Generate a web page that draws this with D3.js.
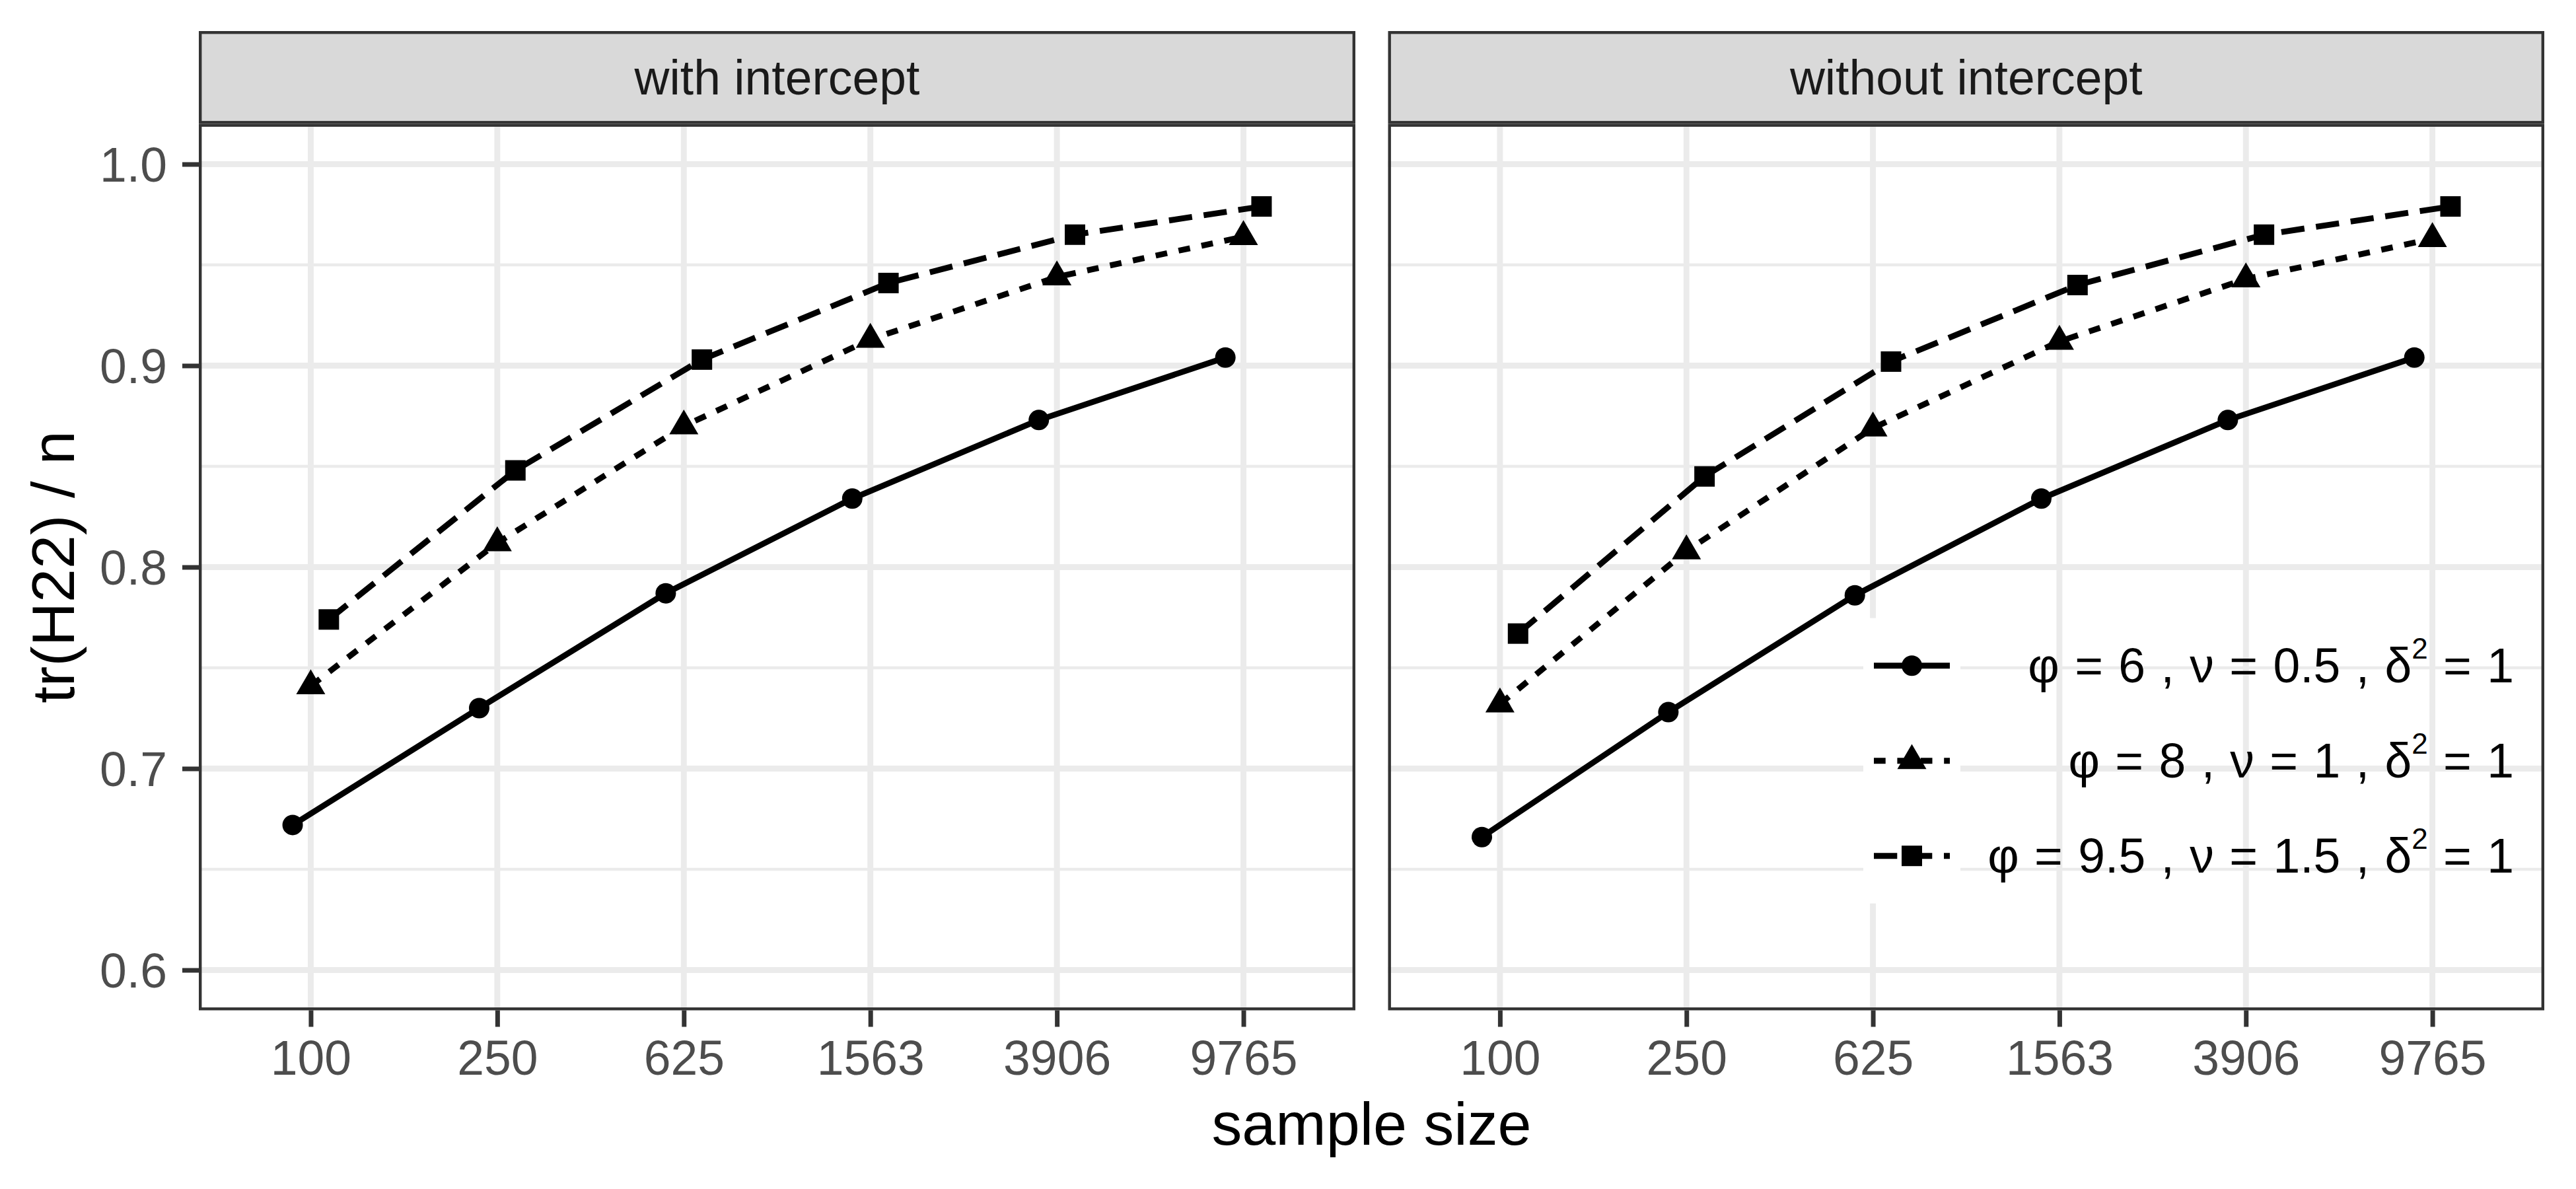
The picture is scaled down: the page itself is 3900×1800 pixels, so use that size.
<!DOCTYPE html>
<html>
<head>
<meta charset="utf-8">
<script src="https://cdn.jsdelivr.net/npm/d3@7"></script>
<style>
  body { margin: 0; background: #fff; }
  svg { display: block; font-family: "Liberation Sans", Arial, Helvetica, sans-serif; }
</style>
</head>
<body>
<svg id="chart" width="3900" height="1800"></svg>
<script>
// values
const facets = ["with intercept", "without intercept"];
const sampleSizes = ["100", "250", "625", "1563", "3906", "9765"];
const seriesKeys = ["a", "b", "c"];
const phiValues = ["6", "8", "9.5"];
const nuValues = ["0.5", "1", "1.5"];
const delta2Values = ["1", "1", "1"];

const withIntercept = [
  [0.672, 0.730, 0.787, 0.834, 0.873, 0.904],
  [0.741, 0.812, 0.870, 0.913, 0.944, 0.964],
  [0.774, 0.848, 0.903, 0.941, 0.965, 0.979],
];
const withoutIntercept = [
  [0.666, 0.728, 0.786, 0.834, 0.873, 0.904],
  [0.732, 0.808, 0.869, 0.912, 0.943, 0.963],
  [0.767, 0.845, 0.902, 0.940, 0.965, 0.979],
];
const facetValues = [withIntercept, withoutIntercept];

const yTicks = [0.6, 0.7, 0.8, 0.9, 1.0];
const yMinorTicks = [0.65, 0.75, 0.85, 0.95];

// layout (px)
const stripTop = 47;
const panelTop = 187.5;
const panelBottom = 1529.5;
const panelX = [[301, 2052], [2101.5, 3852]];
const lw = 8.9;

const dashes = ["none", "17.7,17.7", "35.3,17.7"];

const circleSym = {
  draw(ctx) { ctx.moveTo(15.5, 0); ctx.arc(0, 0, 15.5, 0, 2 * Math.PI); },
};
const triangleSym = {
  draw(ctx) { ctx.moveTo(0, -25.1); ctx.lineTo(22, 12.6); ctx.lineTo(-22, 12.6); ctx.closePath(); },
};
const squareSym = {
  draw(ctx) { ctx.rect(-15.5, -15.5, 31, 31); },
};
const shapes = [circleSym, triangleSym, squareSym];

const svg = d3.select("#chart");

const y = d3.scaleLinear().domain([0.58, 1.02]).range([panelBottom, panelTop]);
const dodge = d3.scalePoint().domain(seriesKeys).range([-0.097, 0.097]);

facets.forEach((facet, fi) => {
  const [x0, x1] = panelX[fi];
  const x = d3.scalePoint().domain(sampleSizes).range([x0, x1]).padding(0.6);
  const g = svg.append("g");

  g.append("rect")
    .attr("x", x0).attr("y", panelTop)
    .attr("width", x1 - x0).attr("height", panelBottom - panelTop)
    .attr("fill", "#fff");

  // grid
  g.selectAll(".minor")
    .data(yMinorTicks)
    .join("line")
    .attr("x1", x0).attr("x2", x1)
    .attr("y1", (d) => y(d)).attr("y2", (d) => y(d))
    .attr("stroke", "#EBEBEB").attr("stroke-width", lw / 2);

  g.selectAll(".hmajor")
    .data(yTicks)
    .join("line")
    .attr("x1", x0).attr("x2", x1)
    .attr("y1", (d) => y(d)).attr("y2", (d) => y(d))
    .attr("stroke", "#EBEBEB").attr("stroke-width", lw);

  g.selectAll(".vmajor")
    .data(sampleSizes)
    .join("line")
    .attr("x1", (d) => x(d)).attr("x2", (d) => x(d))
    .attr("y1", panelTop).attr("y2", panelBottom)
    .attr("stroke", "#EBEBEB").attr("stroke-width", lw);

  // legend key backgrounds sit over the grid in the second panel
  if (fi === 1) {
    g.append("rect")
      .attr("x", 2821).attr("y", 935.7)
      .attr("width", 147).attr("height", 3 * 144)
      .attr("fill", "#fff");
  }

  // series
  const vals = facetValues[fi];
  seriesKeys.forEach((key, si) => {
    const px = (i) => x(sampleSizes[i]) + dodge(key) * x.step();
    const line = d3.line()
      .x((d, i) => px(i))
      .y((d) => y(d));

    g.append("path")
      .datum(vals[si])
      .attr("d", line)
      .attr("fill", "none")
      .attr("stroke", "#000")
      .attr("stroke-width", lw)
      .attr("stroke-linecap", "butt")
      .attr("stroke-linejoin", "round")
      .attr("stroke-dasharray", dashes[si]);

    g.selectAll(null)
      .data(vals[si])
      .join("path")
      .attr("transform", (d, i) => `translate(${px(i)},${y(d)})`)
      .attr("d", d3.symbol().type(shapes[si])())
      .attr("fill", "#000");
  });

  // panel border
  g.append("rect")
    .attr("x", x0 + 2.2).attr("y", panelTop + 2.2)
    .attr("width", x1 - x0 - 4.4).attr("height", panelBottom - panelTop - 4.4)
    .attr("fill", "none").attr("stroke", "#333").attr("stroke-width", 4.4);

  // strip
  g.append("rect")
    .attr("x", x0 + 2.2).attr("y", stripTop + 2.2)
    .attr("width", x1 - x0 - 4.4).attr("height", panelTop - stripTop - 4.4)
    .attr("fill", "#D9D9D9").attr("stroke", "#333").attr("stroke-width", 4.4);

  g.append("text")
    .attr("x", (x0 + x1) / 2).attr("y", 143)
    .attr("text-anchor", "middle")
    .attr("font-size", 73.3)
    .attr("fill", "#1A1A1A")
    .text(facet);

  // x axis
  const xAxis = g.append("g")
    .attr("transform", `translate(0,${panelBottom})`)
    .call(d3.axisBottom(x).tickSize(25).tickPadding(20));
  xAxis.select(".domain").remove();
  xAxis.selectAll(".tick line").attr("stroke", "#333").attr("stroke-width", 7);
  xAxis.selectAll(".tick text")
    .attr("font-size", 73.3).attr("fill", "#4D4D4D")
    .attr("font-family", null);

  if (fi === 0) {
    const yAxis = g.append("g")
      .attr("transform", `translate(${x0},0)`)
      .call(d3.axisLeft(y).tickValues(yTicks).tickFormat(d3.format(".1f")).tickSize(25).tickPadding(23));
    yAxis.select(".domain").remove();
    yAxis.selectAll(".tick line").attr("stroke", "#333").attr("stroke-width", 7);
    yAxis.selectAll(".tick text")
      .attr("font-size", 73.3).attr("fill", "#4D4D4D")
      .attr("font-family", null)
      .attr("dy", "0.36em");
  }
});

// axis titles
svg.append("text")
  .attr("x", (panelX[0][0] + panelX[1][1]) / 2).attr("y", 1733)
  .attr("text-anchor", "middle")
  .attr("font-size", 91.7)
  .text("sample size");

svg.append("text")
  .attr("transform", `translate(112,${(panelTop + panelBottom) / 2}) rotate(-90)`)
  .attr("text-anchor", "middle")
  .attr("font-size", 91.7)
  .text("tr(H22) / n");

// legend
const legend = svg.append("g");
const keyY = (i) => 1007.7 + i * 144;

seriesKeys.forEach((key, si) => {
  const cy = keyY(si);
  legend.append("line")
    .attr("x1", 2837).attr("x2", 2952)
    .attr("y1", cy).attr("y2", cy)
    .attr("stroke", "#000").attr("stroke-width", lw)
    .attr("stroke-dasharray", dashes[si]);

  legend.append("path")
    .attr("transform", `translate(2894.5,${cy})`)
    .attr("d", d3.symbol().type(shapes[si])())
    .attr("fill", "#000");

  const t = legend.append("text")
    .attr("x", 3806).attr("y", cy + 25)
    .attr("text-anchor", "end")
    .attr("font-size", 73.3)
    .attr("word-spacing", 3)
    .attr("fill", "#000");
  t.append("tspan").text(`φ = ${phiValues[si]} , ν = ${nuValues[si]} , δ`);
  t.append("tspan").attr("font-size", 44).attr("dy", -36).text("2");
  t.append("tspan").attr("dy", 36).text(` = ${delta2Values[si]}`);
});
</script>
</body>
</html>
